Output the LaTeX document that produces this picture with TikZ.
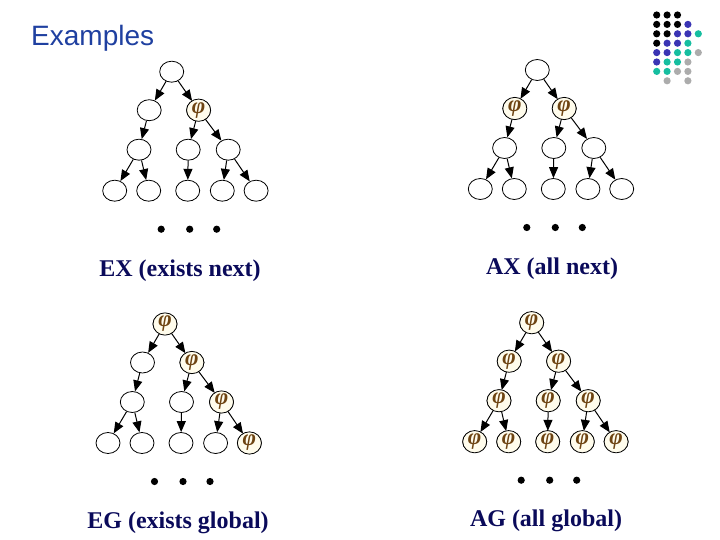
\documentclass[tikz,border=0pt]{standalone}
\usepackage{fontspec}
\setmainfont{Liberation Serif}
\newfontfamily\arialfont{Liberation Sans}
\usetikzlibrary{shapes.geometric,arrows.meta}
\definecolor{titleblue}{RGB}{31,64,160}
\definecolor{labelnavy}{RGB}{10,10,90}
\definecolor{phibrown}{RGB}{110,68,18}
\definecolor{phifill}{RGB}{255,252,236}
\definecolor{logoblue}{RGB}{58,52,180}
\definecolor{logoteal}{RGB}{22,190,160}
\definecolor{logogray}{RGB}{172,172,172}
\tikzset{
  state/.style={draw,ellipse,line width=0.8pt,minimum width=24pt,minimum height=21pt,inner sep=0pt,fill=white},
  phistate/.style={state,fill=phifill,text=phibrown,font=\bfseries\itshape\fontsize{23}{23}\selectfont},
  edge/.style={line width=1pt,-{Triangle[length=11pt,width=9pt]}},
  caption/.style={text=labelnavy,font=\bfseries\fontsize{24}{24}\selectfont}
}
\begin{document}
\begin{tikzpicture}[x=1pt,y=-1pt]
  \useasboundingbox (0,0) rectangle (720,540);
  \node[anchor=base west,inner sep=0pt,text=titleblue,font=\arialfont\fontsize{28}{28}\selectfont] (title) at (31,46) {Examples};
  % logo
  \foreach \cols [count=\r from 0] in {
      {black,black,black,white,white},
      {black,black,black,logoblue,white},
      {black,black,logoblue,logoblue,logoteal},
      {black,logoblue,logoblue,logoteal,white},
      {logoblue,logoblue,logoteal,logoteal,logogray},
      {logoblue,logoteal,logoteal,logogray,white},
      {logoteal,logoteal,logogray,logogray,white},
      {white,logogray,white,logogray,white}} {
    \foreach \clr [count=\c from 0] in \cols
      \fill[\clr] (656.7+10.4*\c,15+9.4*\r) circle (3.6pt);
  }
  % the four trees
  \foreach \t/\rx/\ry in {ex/171.7/71.7, ax/537.3/70, eg/165/324, ag/531.7/322.7} {
    \begin{scope}[shift={(\rx,\ry)}]
      \node[state] (\t-1) at (0,0) {};
      \foreach \n/\x/\y in {2/-22.5/38.5, 3/26.9/38.5, 4/-32.7/78, 5/16.5/78, 6/56.5/78,
          7/-57/119, 8/-23/119, 9/16/119, 10/50.6/119, 11/84.4/119}
        \node[state] (\t-\n) at (\x,\y) {};
      \foreach \a/\b in {1/2,1/3,2/4,3/5,3/6,4/7,4/8,5/9,6/10,6/11}
        \draw[edge] (\t-\a) -- (\t-\b);
      \foreach \x in {-10.5,18,45}
        \fill (\x,157.5) circle (3.6pt);
    \end{scope}
  }
  % states where phi holds
  \foreach \n in {ex-3, ax-2, ax-3, eg-1, eg-3, eg-6, eg-11}
    \node[phistate] at (\n) {φ};
  \foreach \n in {1,...,11}
    \node[phistate] at (ag-\n) {φ};
  % captions
  \node[caption] (exlabel) at (180,271) {EX (exists next)};
  \node[caption] (axlabel) at (552,269) {AX (all next)};
  \node[caption] (eglabel) at (178,523) {EG (exists global)};
  \node[caption] (aglabel) at (546,521) {AG (all global)};
\end{tikzpicture}
\end{document}
